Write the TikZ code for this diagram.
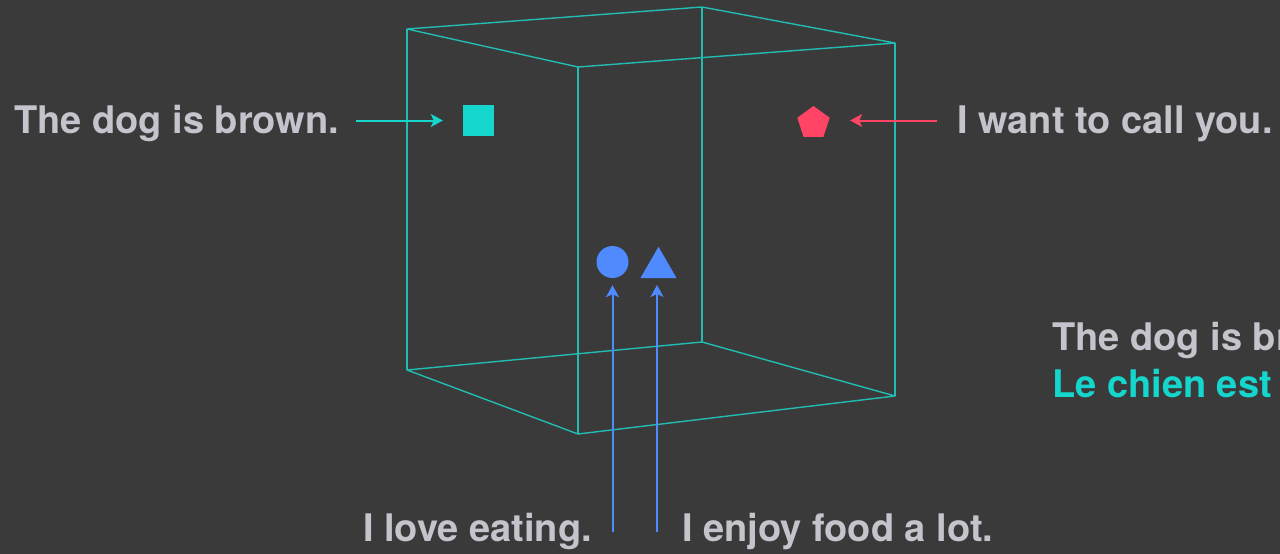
\documentclass[tikz,border=0pt]{standalone}
\usepackage{fontspec}
\setmainfont{TeX Gyre Heros}
\usetikzlibrary{arrows.meta,shapes.geometric}
\definecolor{bg}{HTML}{3A3A3A}
\definecolor{txt}{HTML}{C4C4CC}
\definecolor{cubec}{HTML}{22BCB3}
\definecolor{tealf}{HTML}{14D6CC}
\definecolor{pinkc}{HTML}{FF4466}
\definecolor{bluec}{HTML}{4F8BFF}
\tikzset{
  lbl/.style={inner sep=0pt, text=txt, font=\fontsize{38}{44}\selectfont\bfseries},
  edge/.style={draw=cubec, line width=1.4pt, line join=round},
  arr/.style={line width=2pt, -{Stealth[length=12pt,width=13pt,inset=3pt]}},
}
\begin{document}
\begin{tikzpicture}[x=1pt,y=-1pt]
\fill[bg] (0,0) rectangle (1280,554);
\useasboundingbox (0,0) rectangle (1280,554);
\begin{scope}
\clip (0,0) rectangle (1280,554);
% cube
\path[edge] (407,29) -- (702,7) -- (895,43) -- (578,67) -- cycle;
\path[edge] (407,370) -- (702,342) -- (895,396) -- (578,434) -- cycle;
\path[edge] (407,29) -- (407,370);
\path[edge] (702,7) -- (702,342);
\path[edge] (895,43) -- (895,396);
\path[edge] (578,67) -- (578,434);

% shapes
\node[fill=tealf, minimum size=31pt, inner sep=0pt, draw=none] (sq) at (478.5,120) {};
\node[regular polygon, regular polygon sides=5, fill=pinkc, minimum size=34pt, inner sep=0pt] (pent) at (813.5,123) {};
\node[circle, fill=bluec, minimum size=32pt, inner sep=0pt] (circ) at (612.5,262) {};
\node[regular polygon, regular polygon sides=3, fill=bluec, minimum size=41.6pt, inner sep=0pt] (tri) at (658.5,267.6) {};

% labels
\node[lbl, anchor=base west] (ltext) at (14,133) {The dog is brown.};
\node[lbl, anchor=base west] (rtext) at (957,133) {I want to call you.};
\node[lbl, anchor=base west] (btext1) at (363,541.5) {I love eating.};
\node[lbl, anchor=base west] (btext2) at (682,541.5) {I enjoy food a lot.};
\node[lbl, anchor=base west] (en) at (1052,350) {The dog is br};
\node[lbl, anchor=base west, text=tealf] (fr) at (1052,397) {Le chien est};

% connectors
\coordinate (la) at (356,120.5);
\draw[arr, draw=tealf, fill=tealf, shorten >=20pt] (la) -- (sq.west |- la);
\coordinate (ra) at (937,120.5);
\draw[arr, draw=pinkc, fill=pinkc, shorten >=22pt] (ra) -- (pent.east |- ra);
\coordinate (ca) at (612.5,532);
\draw[arr, draw=bluec, fill=bluec, shorten >=7pt] (ca) -- (circ.south);
\coordinate (ta) at (657,532);
\draw[arr, draw=bluec, fill=bluec] (ta) -- (657,285);
\end{scope}
\end{tikzpicture}
\end{document}
